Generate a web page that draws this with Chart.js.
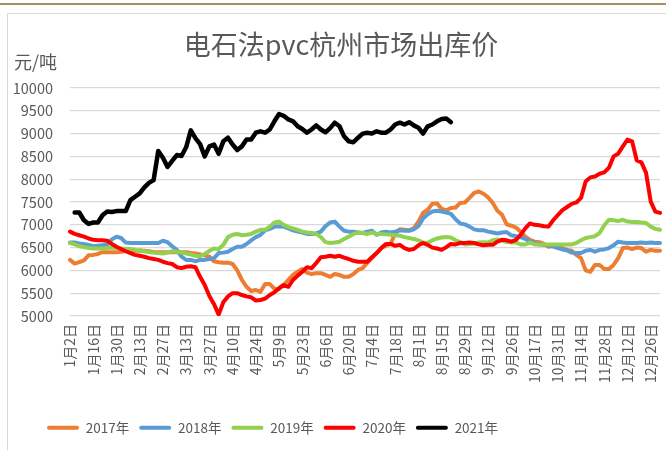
<!DOCTYPE html>
<html><head><meta charset="utf-8">
<script src="https://cdn.jsdelivr.net/npm/chart.js@4"></script>
<style>
html,body{margin:0;padding:0;background:#fff;}
#wrap{position:relative;width:666px;height:450px;overflow:hidden;background:#fff;}
#topline{position:absolute;left:0;top:3px;width:666px;height:2px;background:#a8905f;}
#frame{position:absolute;left:7px;top:13px;width:700px;height:500px;border-left:1px solid #d9d9d9;border-top:1px solid #d9d9d9;}
canvas{position:absolute;left:0;top:0;}
</style></head><body>
<div id="wrap"><div id="topline"></div><div id="frame"></div><canvas id="c" width="666" height="450"></canvas></div>
<script>
const titleText = '电石法pvc杭州市场出库价';
const unitText = '元/吨';
const seriesNames = ['2017年','2018年','2019年','2020年','2021年'];
const seriesColors = ['#ED7D31','#5B9BD5','#92D050','#FF0000','#000000'];
const tickLabels = ['1月2日','1月16日','1月30日','2月13日','2月27日','3月13日','3月27日','4月10日','4月24日','5月9日','5月23日','6月6日','6月20日','7月4日','7月18日','8月1日','8月15日','8月29日','9月12日','9月26日','10月17日','10月31日','11月14日','11月28日','12月12日','12月26日'];
const yTicks = [5000,5500,6000,6500,7000,7500,8000,8500,9000,9500,10000];

const s2017 = [6230,6150,6180,6220,6330,6340,6360,6400,6400,6400,6400,6410,6430,6430,6430,6430,6430,6420,6400,6400,6400,6400,6400,6400,6400,6400,6380,6370,6350,6330,6300,6200,6180,6170,6170,6140,6000,5790,5640,5550,5570,5530,5700,5700,5600,5590,5680,5790,5900,5970,6030,5950,5920,5940,5940,5900,5860,5920,5900,5860,5860,5920,6010,6050,6170,6270,6380,6490,6540,6580,6810,6900,6890,6880,6920,7070,7260,7330,7460,7470,7350,7320,7370,7380,7480,7490,7590,7700,7730,7680,7600,7480,7310,7220,7010,6980,6940,6850,6740,6670,6630,6620,6580,6520,6540,6520,6490,6450,6430,6340,6270,6000,5970,6120,6120,6030,6030,6120,6270,6490,6500,6470,6500,6490,6410,6450,6430,6430];
const s2018 = [6610,6610,6590,6580,6560,6530,6540,6550,6560,6680,6740,6710,6610,6600,6600,6600,6600,6600,6600,6600,6650,6620,6530,6450,6300,6230,6230,6200,6230,6230,6250,6270,6380,6390,6410,6470,6520,6520,6580,6660,6730,6780,6880,6910,6960,6960,6960,6920,6880,6850,6830,6800,6800,6810,6850,6970,7050,7070,6960,6870,6850,6850,6830,6820,6850,6870,6780,6830,6850,6830,6850,6880,6870,6870,6900,6970,7140,7230,7290,7310,7290,7270,7240,7120,7030,7010,6960,6900,6880,6880,6850,6830,6810,6830,6840,6770,6750,6730,6690,6640,6600,6570,6560,6550,6520,6490,6460,6440,6390,6380,6380,6430,6450,6410,6450,6460,6490,6550,6630,6610,6600,6600,6600,6610,6600,6610,6600,6600];
const s2019 = [6600,6570,6530,6510,6490,6480,6480,6480,6490,6500,6490,6480,6470,6470,6450,6440,6420,6400,6390,6380,6370,6390,6420,6410,6390,6370,6350,6320,6310,6360,6430,6480,6470,6560,6730,6780,6800,6770,6780,6800,6850,6890,6890,6960,7050,7070,7000,6950,6920,6890,6850,6830,6820,6800,6730,6620,6600,6610,6630,6690,6740,6800,6830,6820,6800,6830,6800,6800,6790,6780,6770,6760,6730,6710,6690,6660,6610,6600,6660,6700,6720,6730,6720,6660,6620,6570,6580,6590,6610,6620,6610,6660,6680,6660,6620,6610,6610,6570,6570,6610,6570,6570,6570,6570,6570,6570,6570,6570,6570,6600,6660,6710,6730,6750,6820,6990,7110,7100,7080,7110,7070,7060,7060,7050,7040,6960,6910,6890];
const s2020 = [6850,6800,6770,6740,6700,6670,6660,6660,6650,6580,6520,6470,6420,6380,6340,6320,6300,6270,6250,6230,6190,6160,6140,6070,6050,6080,6090,6070,5860,5680,5440,5260,5030,5300,5430,5500,5500,5460,5430,5410,5340,5350,5380,5460,5520,5610,5680,5640,5790,5880,5970,6070,6050,6160,6290,6300,6320,6300,6320,6280,6250,6210,6190,6190,6190,6290,6380,6490,6580,6580,6540,6560,6490,6450,6470,6550,6600,6560,6500,6480,6450,6510,6580,6570,6600,6600,6610,6600,6570,6550,6560,6560,6630,6670,6660,6630,6670,6780,6920,7030,7000,6990,6970,6960,7100,7210,7320,7390,7460,7490,7590,7950,8040,8060,8120,8150,8250,8500,8560,8720,8870,8830,8410,8370,8140,7510,7290,7260];
const s2021 = [null,7270,7270,7100,7020,7050,7050,7210,7290,7280,7300,7300,7300,7540,7615,7690,7820,7920,7980,8620,8470,8270,8400,8530,8510,8700,9070,8900,8770,8500,8720,8760,8560,8830,8910,8760,8640,8720,8870,8870,9020,9050,9020,9090,9270,9430,9390,9310,9270,9160,9100,9020,9090,9180,9090,9030,9120,9240,9160,8940,8830,8810,8910,9000,9020,9000,9050,9020,9020,9090,9200,9240,9200,9250,9180,9130,9000,9160,9200,9270,9320,9330,9250];

const stepPerTick = 5;
const nCats = s2017.length;
const categories = [];
for (let i = 0; i < nCats; i++) {
  categories.push(i % stepPerTick === 0 && (i / stepPerTick) < tickLabels.length ? tickLabels[i / stepPerTick] : '');
}
const seriesData = [s2017, s2018, s2019, s2020, s2021];

const FONT = '"Noto Sans CJK SC", "Noto Sans", sans-serif';

const textPlugin = {
  id: 'texts',
  afterLayout(chart) {
    if (chart.legend) { chart.legend.left = 37; }
  },
  afterDraw(chart) {
    const ctx = chart.ctx;
    ctx.save();
    ctx.fillStyle = '#595959';
    ctx.textBaseline = 'middle';
    ctx.font = '27px ' + FONT;
    ctx.textAlign = 'center';
    ctx.fillText(titleText, 341, 45);
    ctx.font = '18px ' + FONT;
    ctx.textAlign = 'left';
    ctx.fillText(unitText, 14, 62);
    ctx.restore();
  }
};

new Chart(document.getElementById('c'), {
  type: 'line',
  data: {
    labels: categories,
    datasets: seriesData.map((d, i) => ({
      label: seriesNames[i],
      data: d,
      borderColor: seriesColors[i],
      backgroundColor: seriesColors[i],
      borderWidth: i === 4 ? 4.5 : 4,
      pointRadius: 0,
      pointHoverRadius: 0,
      tension: 0,
      fill: false,
      borderJoinStyle: 'round',
      borderCapStyle: 'round',
      order: 5 - i
    }))
  },
  options: {
    responsive: false,
    animation: false,
    events: [],
    layout: { padding: { left: 0, right: 6, top: 88, bottom: 5.5 } },
    scales: {
      x: {
        type: 'category',
        offset: false,
        grid: { display: false, drawTicks: false },
        border: { display: false },
        ticks: {
          autoSkip: false, minRotation: 90, maxRotation: 90, padding: 8,
          color: '#595959', font: { family: FONT, size: 14 }
        },
        afterFit(s) { s.height = 95; s.paddingLeft = 0; s.paddingRight = 0; }
      },
      y: {
        min: 5000, max: 10000,
        afterBuildTicks(s) { s.ticks = yTicks.map(v => ({ value: v })); },
        grid: { color: '#d9d9d9', lineWidth: 1.3, drawTicks: false },
        border: { display: false },
        ticks: { padding: 17, color: '#595959', font: { family: FONT, size: 14.5 }, callback: v => String(v) },
        afterFit(s) { s.width = 70; }
      }
    },
    plugins: {
      title: { display: false },
      tooltip: { enabled: false },
      legend: {
        position: 'bottom',
        align: 'start',
        labels: {
          boxWidth: 32, boxHeight: 4, padding: 10,
          color: '#595959', font: { family: FONT, size: 13.5 },
          sort: (a, b) => a.datasetIndex - b.datasetIndex,
          generateLabels(chart) {
            const items = Chart.defaults.plugins.legend.labels.generateLabels(chart);
            items.forEach(it => { it.fillStyle = seriesColors[it.datasetIndex]; it.strokeStyle = seriesColors[it.datasetIndex]; it.lineWidth = 0; it.borderRadius = 2; });
            return items;
          }
        }
      }
    }
  },
  plugins: [textPlugin]
});
</script>
</body></html>
